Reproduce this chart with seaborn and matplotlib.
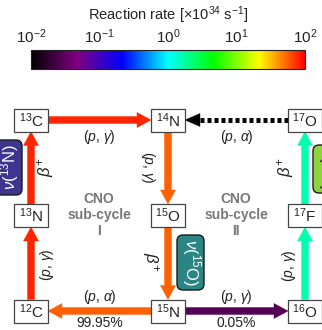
import numpy as np
import matplotlib
matplotlib.use("Agg")
import matplotlib.pyplot as plt
import seaborn as sns
from matplotlib.colors import LogNorm
from matplotlib.patches import Rectangle, FancyBboxPatch
import matplotlib.cm as cm

sns.set_theme(style="white")
plt.rcParams['font.family'] = ['Liberation Sans', 'DejaVu Sans']
plt.rcParams['mathtext.fontset'] = 'custom'
plt.rcParams['mathtext.rm'] = 'Liberation Sans'
plt.rcParams['mathtext.it'] = 'Liberation Sans:italic'
plt.rcParams['mathtext.bf'] = 'Liberation Sans:bold'
plt.rcParams['mathtext.fallback'] = 'cm'

# ---------------- data ----------------
nuclei = ["13C", "14N", "17O", "13N", "15O", "17F", "12C", "15N", "16O"]
node_col = [0, 1, 2, 0, 1, 2, 0, 1, 2]
node_row = [0, 0, 0, 1, 1, 1, 2, 2, 2]
node_labels = [r"$^{13}$C", r"$^{14}$N", r"$^{17}$O", r"$^{13}$N", r"$^{15}$O",
               r"$^{17}$F", r"$^{12}$C", r"$^{15}$N", r"$^{16}$O"]

reac_src = ["12C", "13N", "13C", "14N", "15O", "15N", "15N", "16O", "17F", "17O"]
reac_dst = ["13N", "13C", "14N", "15O", "15N", "12C", "16O", "17F", "17O", "14N"]
reac_label = [r"($p$, $\gamma$)", r"$\beta^{+}$", r"($p$, $\gamma$)", r"($p$, $\gamma$)",
              r"$\beta^{+}$", r"($p$, $\alpha$)", r"($p$, $\gamma$)", r"($p$, $\gamma$)",
              r"$\beta^{+}$", r"($p$, $\alpha$)"]
reac_rate = [80, 80, 80, 55, 55, 55, 0.028, 1.6, 1.6, np.nan]   # x10^34 s^-1

branch_reac = ["15N>12C", "15N>16O"]
branch_text = ["99.95%", "0.05%"]

nu_labels = [r"$\nu$($^{13}$N)", r"$\nu$($^{15}$O)", r"$\nu$($^{17}$F)"]

cycle_labels = ["CNO\nsub-cycle\nI", "CNO\nsub-cycle\nII"]

cbar_ticks = [1e-2, 1e-1, 1e0, 1e1, 1e2]
cbar_title = r"Reaction rate [$\times$10$^{34}$ s$^{-1}$]"

# ---------------- layout ----------------
W, H = 322, 330
SX, SY = 137.0, 95.5          # px per grid column / row
X0, Y0 = 31.0, 120.0          # px of grid origin
def dx(p): return p / SX
def dy(p): return p / SY

fig = plt.figure(figsize=(W / 100, H / 100), dpi=100)
ax = fig.add_axes([0, 0, 1, 1])
ax.set_xlim(-X0 / SX, (W - X0) / SX)
ax.set_ylim((H - Y0) / SY, -Y0 / SY)
ax.axis('off')

cmap = sns.blend_palette(["black", "purple", "blue", "cyan", "lime", "yellow", "red"], as_cmap=True)
norm = LogNorm(1e-2, 1e2)

pos = {n: (c, r) for n, c, r in zip(nuclei, node_col, node_row)}
hw_box, hh_box = dx(17), dy(11.5)

# node boxes
for n, lab in zip(nuclei, node_labels):
    c, r = pos[n]
    ax.add_patch(Rectangle((c - hw_box, r - hh_box), 2 * hw_box, 2 * hh_box,
                           fc="white", ec="#444444", lw=0.9, zorder=5))
    ax.text(c, r + dy(0.5), lab, ha="center", va="center", fontsize=11, color="#222222", zorder=6)

PT = 72 / 100.0  # points per pixel

label_off = {  # px offsets from arrow midpoints, rotation
    "12C>13N": (16, 1, 90), "13N>13C": (15, 0, 90), "13C>14N": (0, 17.5, 0),
    "14N>15O": (-20, 0, -90), "15O>15N": (-18, -2, -90), "15N>12C": (0, -14, 0),
    "15N>16O": (0, -14, 0), "16O>17F": (-16, 2, 90), "17F>17O": (-19, 0, 90),
    "17O>14N": (0, 17, 0),
}

for s, d, lab, rate in zip(reac_src, reac_dst, reac_label, reac_rate):
    (c0, r0), (c1, r1) = pos[s], pos[d]
    ux, uy = np.sign(c1 - c0), np.sign(r1 - r0)
    x0, y0 = c0 + ux * hw_box, r0 + uy * hh_box
    x1, y1 = c1 - ux * hw_box, r1 - uy * hh_box
    if np.isfinite(rate):
        col = cmap(norm(rate))
        ax.annotate("", xy=(x1, y1), xytext=(x0, y0),
                    arrowprops=dict(arrowstyle=f"simple,head_length={14*PT},head_width={15*PT},tail_width={7*PT}",
                                    fc=col, ec=col, lw=0.3, shrinkA=0, shrinkB=0, mutation_scale=1),
                    zorder=3)
    else:
        xb = x1 - ux * dx(15)
        ax.plot([x0, xb], [y0, y1], color="black", lw=5 * PT, dashes=(0.8, 0.6),
                solid_capstyle="butt", dash_capstyle="butt", zorder=3)
        ax.annotate("", xy=(x1, y1), xytext=(xb, y1),
                    arrowprops=dict(arrowstyle=f"simple,head_length={15*PT},head_width={13*PT},tail_width=0.1",
                                    fc="black", ec="black", lw=0.3, shrinkA=0, shrinkB=0, mutation_scale=1),
                    zorder=3)
    key = f"{s}>{d}"
    ox, oy, rot = label_off[key]
    mx, my = (c0 + c1) / 2 + dx(ox), (r0 + r1) / 2 + dy(oy)
    fs = 12 if "beta" in lab else 10
    ax.text(mx, my, lab, ha="center", va="center", rotation=rot, fontsize=fs,
            color="#222222", rotation_mode="anchor", zorder=6)

for key, txt in zip(branch_reac, branch_text):
    s, d = key.split(">")
    (c0, r0), (c1, r1) = pos[s], pos[d]
    ax.text((c0 + c1) / 2, (r0 + r1) / 2 + dy(12), txt, ha="center", va="center",
            fontsize=10, color="#222222")

# cycle labels
for lab, cx in zip(cycle_labels, [dx(99 - X0), dx(236 - X0)]):
    ax.text(cx, dy(215 - Y0), lab, ha="center", va="center", fontsize=10,
            fontweight="bold", color="#777777", linespacing=1.2)

# neutrino boxes (px extents)
nu_boxes = [(-4, 22, 140, 195), (177, 204, 235, 290), (313, 340, 145, 193)]
nu_fc = ["#3d3590", "#2b8585", "#8fd13f"]
nu_tc = ["white", "white", "#1a1a1a"]
nu_rot = [90, -90, -90]
for lab, (xa, xb, ya, yb), fc, tc, rot in zip(nu_labels, nu_boxes, nu_fc, nu_tc, nu_rot):
    bx, by = dx(xa - X0), dy(ya - Y0)
    bw, bh = dx(xb - xa), dy(yb - ya)
    ax.add_patch(FancyBboxPatch((bx, by), bw, bh, boxstyle=f"round,pad=0,rounding_size={dx(6)}",
                                fc=fc, ec="#1a1a1a", lw=1.0, zorder=4, mutation_aspect=SX / SY))
    ax.text(bx + bw / 2 + dx(1), by + bh / 2, lab, ha="center", va="center", rotation=rot,
            fontsize=12, color=tc, zorder=6, rotation_mode="anchor")

# colorbar
cax = fig.add_axes([31 / W, 1 - 69 / H, 274 / W, 19 / H])
sm = cm.ScalarMappable(norm=norm, cmap=cmap)
cb = fig.colorbar(sm, cax=cax, orientation="horizontal", ticks=cbar_ticks)
cb.minorticks_on()
cb.outline.set_edgecolor("#222222")
cb.outline.set_linewidth(0.8)
cax.xaxis.set_ticks_position("top")
cax.xaxis.set_label_position("top")
cax.tick_params(axis="x", which="major", direction="in", length=6 * PT, width=0.8,
                color="#999999", labelsize=11, pad=3, top=True, bottom=False,
                labeltop=True, labelbottom=False, labelcolor="#222222")
cax.tick_params(axis="x", which="minor", direction="in", length=3.5 * PT, width=0.7,
                color="#999999", top=True, bottom=False)
fig.text(168 / W, 1 - 15 / H, cbar_title, ha="center", va="center", fontsize=10.5, color="#222222")

fig.savefig("out.png", dpi=100, facecolor="white")
